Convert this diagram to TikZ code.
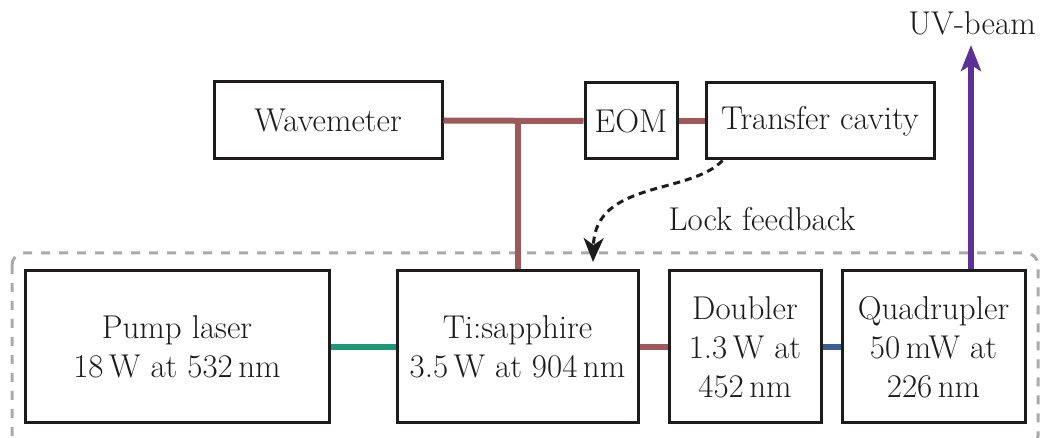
\documentclass[tikz,border=0pt]{standalone}
\usetikzlibrary{arrows.meta}
\definecolor{txt}{RGB}{30,27,28}
\definecolor{beamred}{RGB}{158,90,90}
\definecolor{beamgreen}{RGB}{30,150,120}
\definecolor{beamblue}{RGB}{60,95,145}
\definecolor{beampurple}{RGB}{92,48,148}
\definecolor{dashgray}{RGB}{170,170,172}
\begin{document}
\begin{tikzpicture}[x=0.5pt,y=-0.5pt,
  box/.style={draw=txt, line width=1.5pt, rectangle, inner sep=0pt, align=center,
    text=txt, font=\fontsize{16.5}{19.5}\selectfont},
  beam/.style={line width=3pt},
  lbl/.style={text=txt, inner sep=0pt, font=\fontsize{16.5}{19.5}\selectfont}]
\useasboundingbox (0,0) rectangle (1041,438);
% dashed enclosure
\draw[dashgray, line width=1.5pt, dash pattern=on 4.5pt off 4.5pt, rounded corners=6pt]
  (12,253) rectangle (1038,448);
% nodes
\node[box, minimum width=114pt, minimum height=38.5pt] (wm) at (328,120.5) {Wavemeter};
\node[box, minimum width=46pt, minimum height=38pt] (eom) at (631,121) {EOM};
\node[box, minimum width=114pt, minimum height=38pt] (tc) at (820,121) {Transfer cavity};
\node[box, minimum width=152pt, minimum height=76pt] (pump) at (177,347) {Pump laser\\18\,W at 532\,nm};
\node[box, minimum width=120.5pt, minimum height=76pt] (ti) at (517.5,347) {Ti:sapphire\\3.5\,W at 904\,nm};
\node[box, minimum width=76pt, minimum height=76pt] (dbl) at (745,347) {Doubler\\1.3\,W at\\452\,nm};
\node[box, minimum width=91.5pt, minimum height=76pt] (quad) at (933.5,347) {Quadrupler\\50\,mW at\\226\,nm};
\node[lbl] (uv) at (972,23) {UV-beam};
\node[lbl] (lock) at (762,219) {Lock feedback};
\coordinate (j) at (517.5,120.5);
\coordinate (uvtip) at (971,45);
\coordinate (lockend) at (593,262);
% beams
\draw[beam, beamred] (wm.east) -- (eom.west);
\draw[beam, beamred] (j) -- (ti.north);
\draw[beam, beamred] (eom.east) -- (tc.west);
\draw[beam, beamgreen] (pump.east) -- (ti.west);
\draw[beam, beamred] (ti.east) -- (dbl.west);
\draw[beam, beamblue] (dbl.east) -- (quad.west);
\draw[beam, beampurple, -{Stealth[length=13pt,width=10pt,inset=3pt]}]
  ([xshift=18.75pt]quad.north) -- (uvtip);
% lock feedback
\draw[txt, line width=1.5pt, dash pattern=on 3.5pt off 2.5pt,
  -{Stealth[length=12pt,width=10pt,inset=3.5pt]}]
  ([xshift=9pt]tc.south west) .. controls (690,195) and (595,180) .. (lockend);
\end{tikzpicture}
\end{document}
